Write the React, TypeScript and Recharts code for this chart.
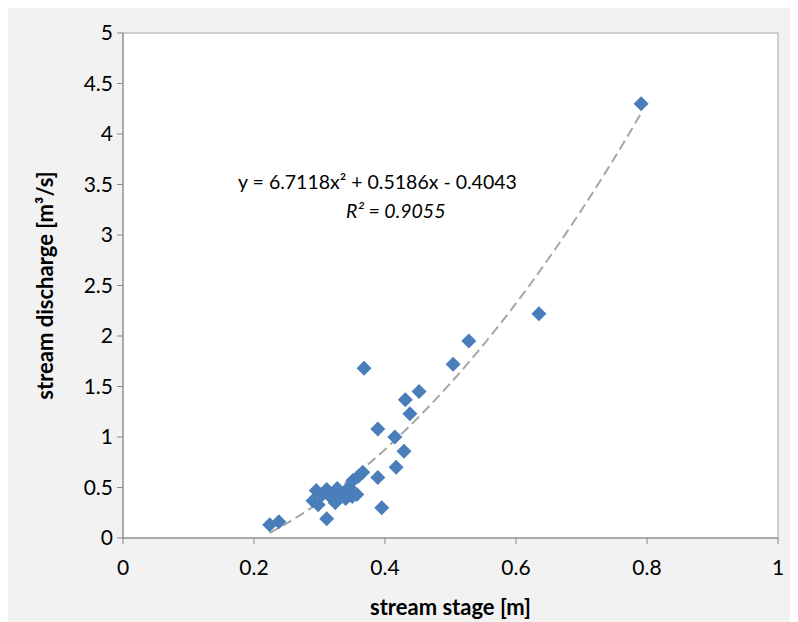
import React from "react";
import {
  ComposedChart,
  Scatter,
  Line,
  XAxis,
  YAxis,
  Label,
} from "recharts";

// measured stage [m] and discharge [m³/s]
const stage = [
  0.224, 0.238, 0.29, 0.295, 0.298, 0.304, 0.311, 0.311, 0.318, 0.324,
  0.327, 0.333, 0.34, 0.345, 0.347, 0.35, 0.351, 0.357, 0.359, 0.366,
  0.368, 0.389, 0.389, 0.395, 0.415, 0.417, 0.429, 0.431, 0.438, 0.452,
  0.504, 0.528, 0.635, 0.791,
];
const discharge = [
  0.13, 0.16, 0.37, 0.47, 0.33, 0.43, 0.48, 0.19, 0.4, 0.35,
  0.49, 0.44, 0.39, 0.5, 0.45, 0.41, 0.57, 0.43, 0.61, 0.65,
  1.68, 1.08, 0.6, 0.3, 1.0, 0.7, 0.86, 1.37, 1.23, 1.45,
  1.72, 1.95, 2.22, 4.3,
];

// polynomial trendline y = a x² + b x + c
const trendCoef = [6.7118, 0.5186, -0.4043];
const trendR2 = 0.9055;
const trendX = [
  0.224, 0.25, 0.28, 0.31, 0.34, 0.37, 0.4, 0.43, 0.46, 0.5, 0.54, 0.58,
  0.62, 0.66, 0.7, 0.74, 0.77, 0.791,
];

const xTicks = [0, 0.2, 0.4, 0.6, 0.8, 1];
const yTicks = [0, 0.5, 1, 1.5, 2, 2.5, 3, 3.5, 4, 4.5, 5];

const points = stage.map((x, i) => ({ x, q: discharge[i] }));
const trend = trendX.map((x) => ({
  x,
  fit: trendCoef[0] * x * x + trendCoef[1] * x + trendCoef[2],
}));

const FONT = "Lato, 'Open Sans', sans-serif";
const BLUE = "#4a7ebb";

const Diamond = (props: any) => {
  const { cx, cy } = props;
  if (cx == null || cy == null) return <g />;
  const r = 7.5;
  return (
    <path
      d={`M${cx},${cy - r}L${cx + r},${cy}L${cx},${cy + r}L${cx - r},${cy}Z`}
      fill={BLUE}
    />
  );
};

const fmt = (v: number) => String(v);

export default function App() {
  return (
    <div
      style={{
        position: "relative",
        width: 792,
        height: 615,
        margin: "-1px 0 0 -2px",
        background: "#f2f2f2",
        fontFamily: FONT,
      }}
    >
      <ComposedChart
        width={792}
        height={615}
        margin={{ top: 26, right: 20, left: 0, bottom: 0 }}
      >
        <rect x={117} y={26} width={655} height={505} fill="#ffffff" stroke="#a6a6a6" />
        <XAxis
          type="number"
          dataKey="x"
          domain={[0, 1]}
          ticks={xTicks}
          tickFormatter={fmt}
          height={84}
          stroke="#868686"
          tickSize={6}
          tick={{ fill: "#000", fontSize: 21, fontFamily: FONT, dy: 14 }}
        >
          <Label
            value="stream stage [m]"
            position="insideBottom"
            offset={7}
            style={{ fill: "#000", fontSize: 22, fontWeight: 700, fontFamily: FONT }}
          />
        </XAxis>
        <YAxis
          type="number"
          domain={[0, 5]}
          ticks={yTicks}
          tickFormatter={fmt}
          width={117}
          stroke="#868686"
          tickSize={6}
          tick={{ fill: "#000", fontSize: 21, fontFamily: FONT, dx: -2 }}
        >
          <Label
            value="stream discharge [m³/s]"
            angle={-90}
            position="center"
            dx={-19}
            style={{ fill: "#000", fontSize: 22, fontWeight: 700, fontFamily: FONT, textAnchor: "middle" }}
          />
        </YAxis>
        <Line
          data={trend}
          dataKey="fit"
          type="monotone"
          stroke="#a6a6a6"
          strokeWidth={2}
          strokeDasharray="10 5"
          dot={false}
          activeDot={false}
          isAnimationActive={false}
        />
        <Scatter
          data={points}
          dataKey="q"
          shape={Diamond}
          isAnimationActive={false}
        />
      </ComposedChart>
      <div
        style={{
          position: "absolute",
          left: 0,
          top: 0,
          width: 780,
          pointerEvents: "none",
          fontSize: 19.5,
          color: "#000",
        }}
      >
        <div style={{ position: "absolute", left: 232, top: 163, whiteSpace: "nowrap" }}>
          y = {trendCoef[0]}x² + {trendCoef[1]}x - {Math.abs(trendCoef[2])}
        </div>
        <div
          style={{
            position: "absolute",
            left: 340,
            top: 192,
            whiteSpace: "nowrap",
            fontStyle: "italic",
          }}
        >
          R² = {trendR2}
        </div>
      </div>
    </div>
  );
}
